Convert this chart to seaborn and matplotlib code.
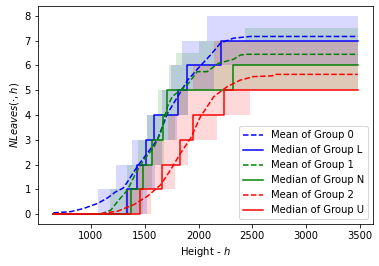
import numpy as np
import pandas as pd
import matplotlib
matplotlib.use("Agg")
import matplotlib.pyplot as plt
import seaborn as sns

# step functions: breakpoints (height) and level from that point on
blue_med_x = [650, 1339, 1426, 1515, 1586, 1808, 1895, 2213, 3480]
blue_med_y = [0, 1, 2, 3, 4, 5, 6, 7, 7]
green_med_x = [650, 1376, 1487, 1571, 1673, 1704, 2321, 3480]
green_med_y = [0, 1, 2, 3, 4, 5, 6, 6]
red_med_x = [650, 1457, 1662, 1824, 1947, 2233, 3480]
red_med_y = [0, 1, 2, 3, 4, 5, 5]

blue_up_x = [650, 1070, 1231, 1386, 1518, 1663, 1741, 1849, 2080, 3480]
blue_up_y = [0, 1, 2, 3, 4, 5, 6, 7, 8, 8]
blue_lo_x = [650, 1518, 1600, 1660, 1800, 1900, 2140, 3480]
blue_lo_y = [0, 1, 2, 3, 4, 5, 6, 6]
green_up_x = [650, 1180, 1340, 1440, 1520, 1620, 1725, 1787, 2000, 2435, 3480]
green_up_y = [0, 1, 2, 3, 4, 5, 6, 6.5, 7, 7.5, 7.5]
green_lo_x = [650, 1480, 1570, 1680, 1780, 1900, 3480]
green_lo_y = [0, 1, 2, 3, 4, 5, 5]
red_up_x = [650, 1320, 1420, 1560, 1720, 1800, 1950, 2140, 3480]
red_up_y = [0, 1, 2, 3, 4, 5, 6, 7, 7]
red_lo_x = [650, 1560, 1780, 1900, 2173, 2481, 3480]
red_lo_y = [0, 1, 2, 3, 4, 5, 5]

# means
blue_mean_x = [650, 815, 935, 1062, 1154, 1231, 1300, 1340, 1432, 1525, 1617, 1713, 1805, 1898,
               2000, 2111, 2204, 2324, 2481, 3480]
blue_mean_y = [0.05, 0.1, 0.23, 0.43, 0.65, 0.9, 1.05, 1.3, 1.93, 2.46, 3.0, 4.07, 4.73, 5.4,
               5.9, 6.42, 6.9, 7.1, 7.17, 7.17]
green_mean_x = [650, 1093, 1185, 1250, 1340, 1417, 1491, 1586, 1650, 1710, 1756, 1830, 1895, 1988,
                2080, 2187, 2326, 2389, 2450, 3480]
green_mean_y = [0, 0, 0.16, 0.52, 0.97, 1.65, 2.18, 2.7, 3.3, 4.33, 4.74, 5.0, 5.21, 5.75,
                5.75, 6.09, 6.25, 6.42, 6.45, 6.45]
red_mean_x = [650, 1063, 1250, 1398, 1525, 1648, 1741, 1833, 1926, 2018, 2142, 2265, 2389, 2512,
              2685, 2713, 3480]
red_mean_y = [0, 0, 0.12, 0.38, 0.72, 1.18, 1.79, 2.46, 3.05, 3.93, 4.74, 5.14, 5.41, 5.55,
              5.58, 5.64, 5.64]

groups = [
    ("blue", "0", "L", blue_mean_x, blue_mean_y, blue_med_x, blue_med_y,
     blue_lo_x, blue_lo_y, blue_up_x, blue_up_y),
    ("green", "1", "N", green_mean_x, green_mean_y, green_med_x, green_med_y,
     green_lo_x, green_lo_y, green_up_x, green_up_y),
    ("red", "2", "U", red_mean_x, red_mean_y, red_med_x, red_med_y,
     red_lo_x, red_lo_y, red_up_x, red_up_y),
]


def on_grid(xs, ys, grid):
    # value of the step function (post) at each grid point
    idx = np.searchsorted(xs, grid, side="right") - 1
    return np.asarray(ys)[np.clip(idx, 0, len(ys) - 1)]


fig = plt.figure(figsize=(379 / 72, 266 / 72), dpi=72)
ax = fig.add_axes([38 / 379, 42 / 266, 335 / 379, 218 / 266])

for color, gi, gl, mx, my, medx, medy, lox, loy, upx, upy in groups:
    grid = np.unique(np.concatenate([lox, upx]))
    ax.fill_between(grid, on_grid(lox, loy, grid), on_grid(upx, upy, grid),
                    step="post", color=color, alpha=0.15, linewidth=0)
    sns.lineplot(x=mx, y=my, color=color, linestyle="--", estimator=None,
                 label=f"Mean of Group {gi}", ax=ax)
    sns.lineplot(x=medx, y=medy, color=color, drawstyle="steps-post", estimator=None,
                 label=f"Median of Group {gl}", ax=ax)

ax.set_xlabel("Height - $h$")
ax.set_ylabel(r"$NLeaves(\cdot, h)$")
ax.legend(loc="lower right")

fig.savefig("out.png", dpi=72)
